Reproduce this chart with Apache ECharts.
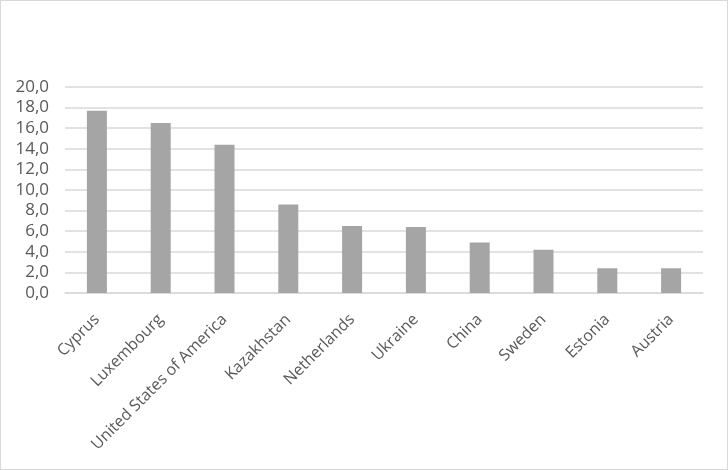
<!DOCTYPE html>
<html>
<head>
<meta charset="utf-8">
<script src="https://cdn.jsdelivr.net/npm/echarts@6/dist/echarts.min.js"></script>
<style>
  html, body { margin: 0; padding: 0; background: #fff; }
  #main { width: 728px; height: 470px; box-sizing: border-box; border: 1px solid #d9d9d9; }
</style>
</head>
<body>
<div id="main"></div>
<script>
var countries = ['Cyprus', 'Luxembourg', 'United States of America', 'Kazakhstan', 'Netherlands',
                 'Ukraine', 'China', 'Sweden', 'Estonia', 'Austria'];
var values = [17.7, 16.5, 14.4, 8.6, 6.5, 6.4, 4.9, 4.2, 2.4, 2.4];
var yTicks = { min: 0, max: 20, interval: 2 };

var chart = echarts.init(document.getElementById('main'));
chart.setOption({
  animation: false,
  grid: { left: 64, right: 24, top: 86, bottom: 176 },
  xAxis: {
    type: 'category',
    data: countries,
    axisLine: { lineStyle: { color: '#d9d9d9', width: 1.5 } },
    axisTick: { show: false },
    axisLabel: {
      rotate: 45,
      interval: 0,
      margin: 24,
      color: '#595959',
      fontFamily: 'Open Sans',
      fontSize: 16
    }
  },
  yAxis: {
    type: 'value',
    min: yTicks.min,
    max: yTicks.max,
    interval: yTicks.interval,
    axisLine: { show: false },
    axisTick: { show: false },
    splitLine: { lineStyle: { color: '#d9d9d9', width: 1.5 } },
    axisLabel: {
      margin: 16,
      color: '#595959',
      fontFamily: 'Open Sans',
      fontSize: 17,
      formatter: function (v) { return v.toFixed(1).replace('.', ','); }
    }
  },
  series: [{
    type: 'bar',
    data: values,
    barWidth: 20,
    itemStyle: { color: '#a5a5a5' }
  }]
});
</script>
</body>
</html>
